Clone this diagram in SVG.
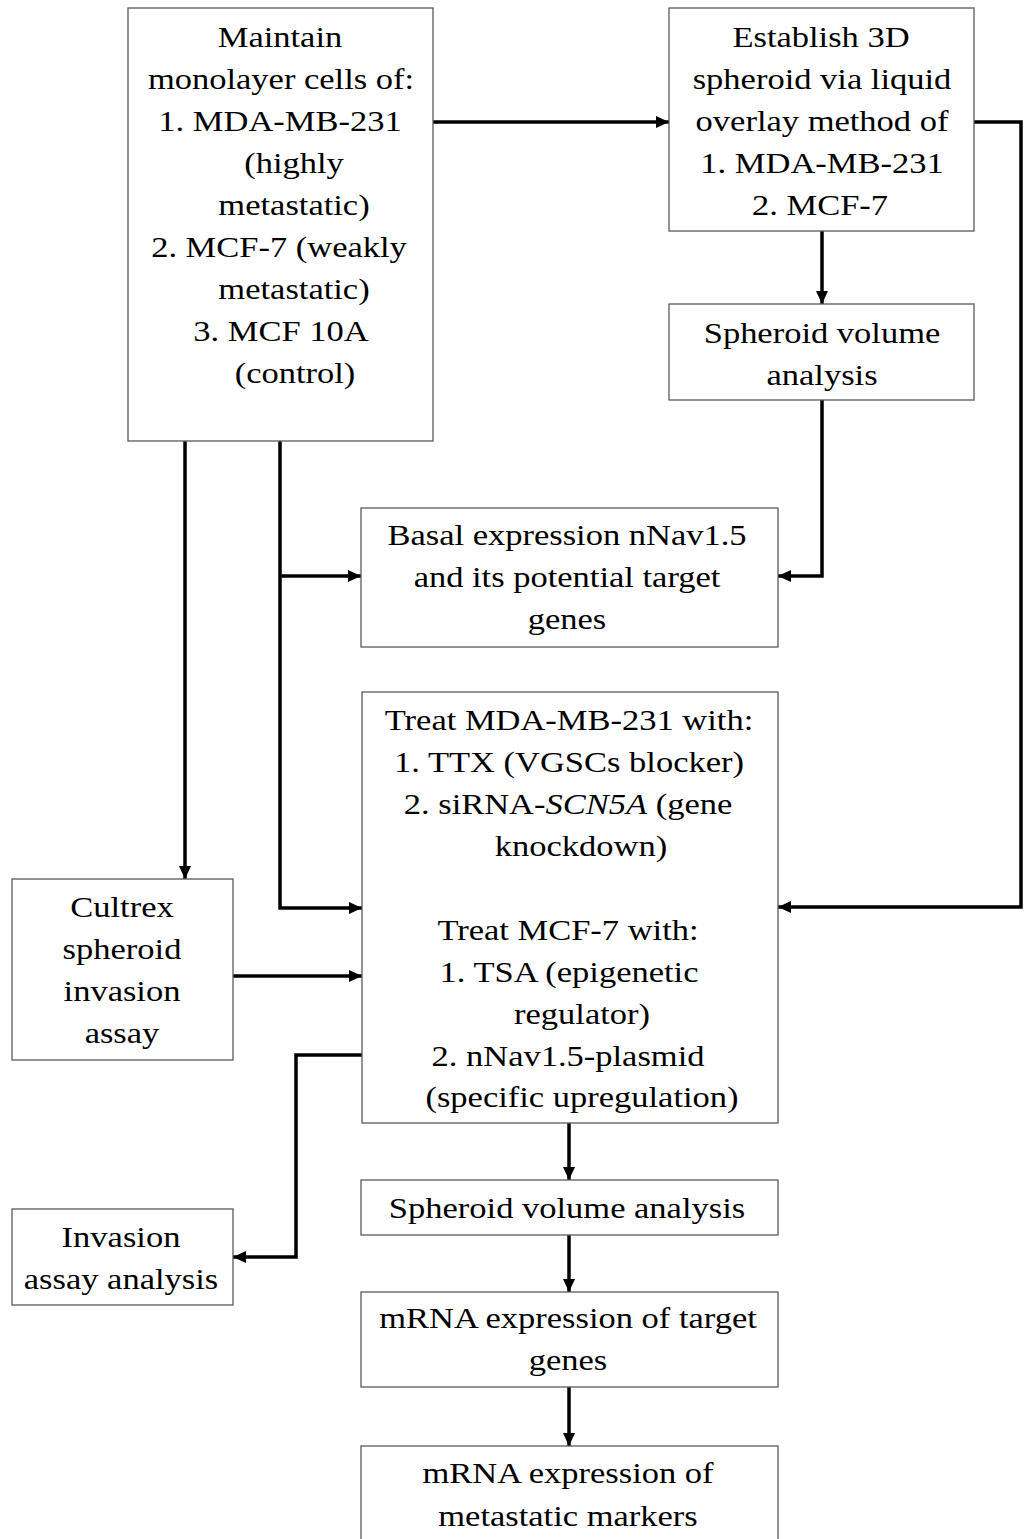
<svg xmlns="http://www.w3.org/2000/svg" width="1024" height="1539" viewBox="0 0 1024 1539">
<style>
.box{fill:#fff;stroke:#5a5a5a;stroke-width:1.3}
.t{font-family:"Liberation Serif","Times New Roman",serif;font-size:30px;fill:#000;text-anchor:middle}
.c{fill:none;stroke:#000;stroke-width:3.5;stroke-linejoin:miter}
</style>
<defs>
<marker id="ah" markerUnits="userSpaceOnUse" markerWidth="13" markerHeight="12" refX="13" refY="6" orient="auto">
<path d="M0,0 L13,6 L0,12 z" fill="#000"/>
</marker>
</defs>
<rect width="1024" height="1539" fill="#fff"/>

<g id="connectors">
<path class="c" d="M433,122 H669" marker-end="url(#ah)"/>
<path class="c" d="M974,122 H1021 V907 H778" marker-end="url(#ah)"/>
<path class="c" d="M822,231 V304" marker-end="url(#ah)"/>
<path class="c" d="M822,400 V576 H778" marker-end="url(#ah)"/>
<path class="c" d="M185,441 V879" marker-end="url(#ah)"/>
<path class="c" d="M280,441 V908 H362" marker-end="url(#ah)"/>
<path class="c" d="M280,576 H361" marker-end="url(#ah)"/>
<path class="c" d="M233,976 H362" marker-end="url(#ah)"/>
<path class="c" d="M362,1055 H296 V1257 H233" marker-end="url(#ah)"/>
<path class="c" d="M569,1123 V1180" marker-end="url(#ah)"/>
<path class="c" d="M569,1235 V1292" marker-end="url(#ah)"/>
<path class="c" d="M569,1387 V1446" marker-end="url(#ah)"/>
</g>

<g id="maintain">
<rect class="box" x="128" y="8" width="305" height="433"/>
<text class="t" transform="translate(280,47) scale(1.15,1)">Maintain</text>
<text class="t" transform="translate(281,89) scale(1.15,1)">monolayer cells of:</text>
<text class="t" transform="translate(280,131) scale(1.15,1)">1. MDA-MB-231</text>
<text class="t" transform="translate(294,173) scale(1.15,1)">(highly</text>
<text class="t" transform="translate(294,215) scale(1.15,1)">metastatic)</text>
<text class="t" transform="translate(279,257) scale(1.15,1)">2. MCF-7 (weakly</text>
<text class="t" transform="translate(294,299) scale(1.15,1)">metastatic)</text>
<text class="t" transform="translate(281,341) scale(1.15,1)">3. MCF 10A</text>
<text class="t" transform="translate(295,383) scale(1.15,1)">(control)</text>
</g>

<g id="establish">
<rect class="box" x="669" y="8" width="305" height="223"/>
<text class="t" transform="translate(821,47) scale(1.15,1)">Establish 3D</text>
<text class="t" transform="translate(822,89) scale(1.15,1)">spheroid via liquid</text>
<text class="t" transform="translate(822,131) scale(1.15,1)">overlay method of</text>
<text class="t" transform="translate(822,173) scale(1.15,1)">1. MDA-MB-231</text>
<text class="t" transform="translate(820,215) scale(1.15,1)">2. MCF-7</text>
</g>

<g id="spheroid-top">
<rect class="box" x="669" y="304" width="305" height="96"/>
<text class="t" transform="translate(822,343) scale(1.15,1)">Spheroid volume</text>
<text class="t" transform="translate(822,385) scale(1.15,1)">analysis</text>
</g>

<g id="basal">
<rect class="box" x="361" y="508" width="417" height="139"/>
<text class="t" transform="translate(567,545) scale(1.15,1)">Basal expression nNav1.5</text>
<text class="t" transform="translate(567,587) scale(1.15,1)">and its potential target</text>
<text class="t" transform="translate(567,629) scale(1.15,1)">genes</text>
</g>

<g id="treat">
<rect class="box" x="362" y="692" width="416" height="431"/>
<text class="t" transform="translate(569,730) scale(1.15,1)">Treat MDA-MB-231 with:</text>
<text class="t" transform="translate(569,772) scale(1.15,1)">1. TTX (VGSCs blocker)</text>
<text class="t" transform="translate(568,814) scale(1.15,1)">2. siRNA-<tspan font-style="italic">SCN5A</tspan> (gene</text>
<text class="t" transform="translate(581,856) scale(1.15,1)">knockdown)</text>
<text class="t" transform="translate(568,940) scale(1.15,1)">Treat MCF-7 with:</text>
<text class="t" transform="translate(569,982) scale(1.15,1)">1. TSA (epigenetic</text>
<text class="t" transform="translate(582,1024) scale(1.15,1)">regulator)</text>
<text class="t" transform="translate(568,1066) scale(1.15,1)">2. nNav1.5-plasmid</text>
<text class="t" transform="translate(582,1107) scale(1.15,1)">(specific upregulation)</text>
</g>

<g id="cultrex">
<rect class="box" x="12" y="879" width="221" height="181"/>
<text class="t" transform="translate(122,917) scale(1.15,1)">Cultrex</text>
<text class="t" transform="translate(122,959) scale(1.15,1)">spheroid</text>
<text class="t" transform="translate(122,1001) scale(1.15,1)">invasion</text>
<text class="t" transform="translate(122,1043) scale(1.15,1)">assay</text>
</g>

<g id="invasion">
<rect class="box" x="12" y="1209" width="221" height="96"/>
<text class="t" transform="translate(121,1247) scale(1.15,1)">Invasion</text>
<text class="t" transform="translate(121,1289) scale(1.15,1)">assay analysis</text>
</g>

<g id="spheroid-bottom">
<rect class="box" x="361" y="1180" width="417" height="55"/>
<text class="t" transform="translate(567,1218) scale(1.15,1)">Spheroid volume analysis</text>
</g>

<g id="mrna-target">
<rect class="box" x="361" y="1292" width="417" height="95"/>
<text class="t" transform="translate(568,1328) scale(1.15,1)">mRNA expression of target</text>
<text class="t" transform="translate(568,1370) scale(1.15,1)">genes</text>
</g>

<g id="mrna-markers">
<rect class="box" x="361" y="1446" width="417" height="100"/>
<text class="t" transform="translate(568,1483) scale(1.15,1)">mRNA expression of</text>
<text class="t" transform="translate(568,1526) scale(1.15,1)">metastatic markers</text>
</g>
</svg>
